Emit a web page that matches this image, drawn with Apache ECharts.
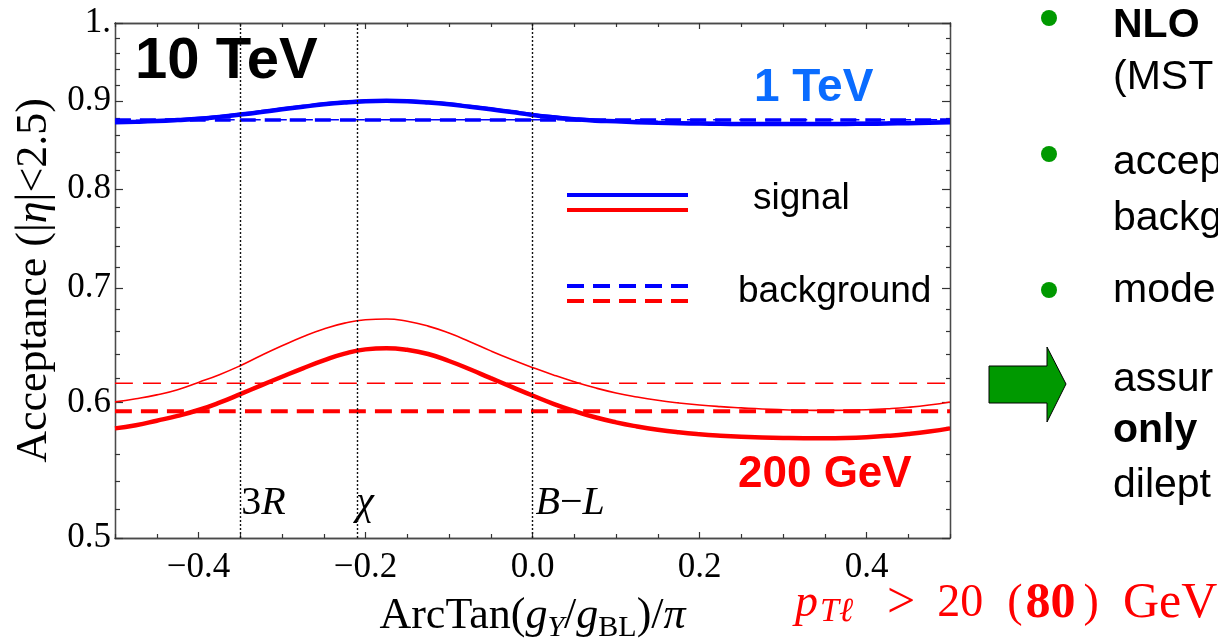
<!DOCTYPE html>
<html>
<head>
<meta charset="utf-8">
<script src="https://cdn.jsdelivr.net/npm/echarts@6/dist/echarts.min.js"></script>
<style>
  html, body { margin: 0; padding: 0; background: #ffffff; }
  #chart { width: 1218px; height: 640px; }
</style>
</head>
<body>
<div id="chart"></div>
<script>
// Mixing angle ArcTan(gY/gBL)/pi sampled across one period
const xGrid = [-0.5, -0.475, -0.45, -0.425, -0.4, -0.375, -0.35, -0.325, -0.3, -0.275,
               -0.25, -0.225, -0.2, -0.175, -0.15, -0.125, -0.1, -0.075, -0.05, -0.025,
               0, 0.025, 0.05, 0.075, 0.1, 0.125, 0.15, 0.175, 0.2, 0.225,
               0.25, 0.275, 0.3, 0.325, 0.35, 0.375, 0.4, 0.425, 0.45, 0.475, 0.5];

// 1 TeV Z' signal acceptance: pT > 80 GeV (thick) and pT > 20 GeV (thin)
const signal1TeVThick = [0.8750, 0.8755, 0.8763, 0.8775, 0.8790, 0.8813, 0.8840, 0.8870, 0.8903, 0.8934,
                         0.8963, 0.8985, 0.9000, 0.9005, 0.9000, 0.8985, 0.8963, 0.8934, 0.8903, 0.8870,
                         0.8836, 0.8808, 0.8785, 0.8768, 0.8760, 0.8750, 0.8743, 0.8738, 0.8734, 0.8731,
                         0.8729, 0.8728, 0.8728, 0.8728, 0.8729, 0.8730, 0.8732, 0.8735, 0.8739, 0.8744, 0.8750];
const signal1TeVThin  = [0.8762, 0.8767, 0.8775, 0.8787, 0.8802, 0.8825, 0.8852, 0.8882, 0.8915, 0.8946,
                         0.8975, 0.8997, 0.9012, 0.9017, 0.9012, 0.8997, 0.8975, 0.8946, 0.8915, 0.8882,
                         0.8848, 0.8820, 0.8797, 0.8780, 0.8772, 0.8762, 0.8755, 0.8750, 0.8746, 0.8743,
                         0.8741, 0.8740, 0.8740, 0.8740, 0.8741, 0.8742, 0.8744, 0.8747, 0.8751, 0.8756, 0.8762];
// 200 GeV Z' signal acceptance
const signal200Thin  = [0.6005, 0.6030, 0.6062, 0.6105, 0.6165, 0.6229, 0.6305, 0.6392, 0.6476, 0.6556,
                        0.6625, 0.6677, 0.6707, 0.6714, 0.6693, 0.6650, 0.6588, 0.6512, 0.6432, 0.6358,
                        0.6290, 0.6227, 0.6170, 0.6120, 0.6078, 0.6045, 0.6018, 0.5997, 0.5980, 0.5967,
                        0.5957, 0.5948, 0.5942, 0.5938, 0.5937, 0.5938, 0.5942, 0.5950, 0.5962, 0.5980, 0.6005];
const signal200Thick = [0.5795, 0.5820, 0.5855, 0.5893, 0.5940, 0.5999, 0.6068, 0.6140, 0.6212, 0.6283,
                        0.6350, 0.6408, 0.6445, 0.6455, 0.6441, 0.6405, 0.6345, 0.6275, 0.6200, 0.6128,
                        0.6057, 0.5990, 0.5932, 0.5882, 0.5842, 0.5810, 0.5784, 0.5764, 0.5749, 0.5738,
                        0.5730, 0.5725, 0.5721, 0.5719, 0.5719, 0.5721, 0.5727, 0.5737, 0.5751, 0.5770, 0.5795];

// Drell-Yan background acceptance (flat in the mixing angle)
const background1TeVThick = 0.8775;
const background1TeVThin = 0.8780;
const background200Thin = 0.6157;
const background200Thick = 0.5930;

// Benchmark models
const modelPositions = [-0.3524, -0.2148, 0];
const modelLabels = ['3{i|R}', '{i|χ}', '{i|B}−{i|L}'];
const modelLabelLevel = 0.5241;

// Axis ticks
const xMajorTicks = [-0.4, -0.2, 0, 0.2, 0.4];
const xMinorTicks = [-0.5, -0.45, -0.35, -0.3, -0.25, -0.15, -0.1, -0.05, 0.05, 0.1, 0.15, 0.25, 0.3, 0.35, 0.45, 0.5];
const yMajorTicks = [0.5, 0.6, 0.7, 0.8, 0.9, 1.0];
const yMinorTicks = [0.52, 0.54, 0.56, 0.58, 0.62, 0.64, 0.66, 0.68, 0.72, 0.74, 0.76, 0.78,
                     0.82, 0.84, 0.86, 0.88, 0.92, 0.94, 0.96, 0.98];

const SERIF = '"Liberation Serif", "DejaVu Serif", serif';
const SANS = '"Liberation Sans", Arial, sans-serif';
const FRAME = '#4a4a4a';
const TICK = '#333333';
const BLUE = '#0000ff';
const RED = '#ff0000';

const pairs = (ys) => xGrid.map((x, i) => [x, ys[i]]);
const flat = (v) => [[-0.5, v], [0.5, v]];

function xAxisDef(position, ticks, len, withLabels) {
  const ax = {
    type: 'value', min: -0.5, max: 0.5, position: position,
    axisLine: { show: true, onZero: false, lineStyle: { color: FRAME, width: 1.3 } },
    axisTick: { show: true, inside: true, length: len, customValues: ticks, lineStyle: { color: TICK, width: 1.2 } },
    axisLabel: { show: false },
    splitLine: { show: false }
  };
  if (withLabels) {
    ax.axisLabel = {
      show: true, customValues: xMajorTicks, margin: 12,
      fontFamily: SERIF, fontSize: 35, color: '#000',
      formatter: (v) => (v < 0 ? '−' : '') + Math.abs(v).toFixed(1)
    };
    ax.name = 'ArcTan({i|g}{sub|Y}/{i|g}{subr|BL})/{i|π}';
    ax.nameLocation = 'middle';
    ax.nameGap = 52;
    ax.nameTextStyle = {
      fontFamily: SERIF, fontSize: 44, color: '#000', lineHeight: 53,
      rich: {
        i: { fontFamily: SERIF, fontSize: 44, fontStyle: 'italic', color: '#000', lineHeight: 53 },
        sub: { fontFamily: SERIF, fontSize: 30, fontStyle: 'italic', color: '#000', verticalAlign: 'bottom' },
        subr: { fontFamily: SERIF, fontSize: 30, color: '#000', verticalAlign: 'bottom' }
      }
    };
  }
  return ax;
}

function yAxisDef(position, ticks, len, withLabels) {
  const ax = {
    type: 'log', logBase: 10, min: 0.5, max: 1, position: position,
    axisLine: { show: true, onZero: false, lineStyle: { color: FRAME, width: 1.3 } },
    axisTick: { show: true, inside: true, length: len, customValues: ticks, lineStyle: { color: TICK, width: 1.2 } },
    axisLabel: { show: false },
    splitLine: { show: false },
    minorTick: { show: false }
  };
  if (withLabels) {
    ax.axisLabel = {
      show: true, customValues: yMajorTicks, margin: 4,
      fontFamily: SERIF, fontSize: 35, color: '#000',
      formatter: (v) => (Math.abs(v - 1) < 1e-9 ? '1.' : v.toFixed(1))
    };
    ax.name = 'Acceptance (|{i|η}|<2.5)';
    ax.nameLocation = 'middle';
    ax.nameGap = 59;
    ax.nameTextStyle = {
      fontFamily: SERIF, fontSize: 44, color: '#000',
      rich: { i: { fontFamily: SERIF, fontSize: 44, fontStyle: 'italic', color: '#000' } }
    };
  }
  return ax;
}

function lineSeries(name, data, color, width, dash) {
  return {
    name: name, type: 'line', data: data, xAxisIndex: 0, yAxisIndex: 0,
    showSymbol: false, symbol: 'none', smooth: 0.5, silent: true,
    lineStyle: { color: color, width: width, type: dash || 'solid', cap: 'butt' },
    z: 3
  };
}

const chart = echarts.init(document.getElementById('chart'), null, { renderer: 'canvas' });

const legendX1 = 567, legendX2 = 688;

const option = {
  animation: false,
  backgroundColor: '#ffffff',
  grid: { left: 115, right: 268, top: 23, bottom: 102, containLabel: false, outerBoundsMode: 'none' },
  xAxis: [
    xAxisDef('bottom', xMajorTicks, 6, true),
    xAxisDef('bottom', xMinorTicks, 4, false),
    xAxisDef('top', xMajorTicks, 6, false),
    xAxisDef('top', xMinorTicks, 4, false)
  ],
  yAxis: [
    yAxisDef('left', yMajorTicks, 8, true),
    yAxisDef('left', yMinorTicks, 5, false),
    yAxisDef('right', yMajorTicks, 8, false),
    yAxisDef('right', yMinorTicks, 4, false)
  ],
  series: [
    lineSeries('background 1 TeV (20)', flat(background1TeVThin), BLUE, 1.5, [16, 10]),
    lineSeries('background 1 TeV (80)', flat(background1TeVThick), BLUE, 3.5, [16, 9]),
    lineSeries('background 200 GeV (20)', flat(background200Thin), RED, 1.5, [18, 10]),
    lineSeries('background 200 GeV (80)', flat(background200Thick), RED, 4, [17, 9]),
    lineSeries('signal 1 TeV (20)', pairs(signal1TeVThin), BLUE, 2, null),
    lineSeries('signal 1 TeV (80)', pairs(signal1TeVThick), BLUE, 4.5, null),
    lineSeries('signal 200 GeV (20)', pairs(signal200Thin), RED, 1.6, null),
    lineSeries('signal 200 GeV (80)', pairs(signal200Thick), RED, 4.5, null),
    {
      name: 'models', type: 'scatter', xAxisIndex: 0, yAxisIndex: 0,
      data: modelPositions.map((x) => [x, modelLabelLevel]),
      symbolSize: 0, silent: true,
      itemStyle: { opacity: 1 },
      label: {
        show: true, position: 'right', distance: 3, opacity: 1,
        formatter: (p) => modelLabels[p.dataIndex],
        fontFamily: SERIF, fontSize: 40, color: '#000', textBorderWidth: 0,
        rich: { i: { fontFamily: SERIF, fontSize: 40, fontStyle: 'italic', color: '#000' } }
      },
      markLine: {
        silent: true, symbol: ['none', 'none'], animation: false,
        label: { show: false },
        lineStyle: { color: '#111111', width: 1.4, type: [2, 2] },
        data: modelPositions.map((x) => ({ xAxis: x }))
      },
      z: 2
    }
  ],
  graphic: [
    // energy labels
    { type: 'text', left: 135, top: 33, silent: true,
      style: { text: '10 TeV', font: 'bold 58px ' + SANS, fill: '#000' } },
    { type: 'text', left: 754, top: 65, silent: true,
      style: { text: '1 TeV', font: 'bold 46px ' + SANS, fill: '#0a6cff' } },
    { type: 'text', left: 738, top: 453, silent: true,
      style: { text: '200 GeV', font: 'bold 44px ' + SANS, fill: RED } },
    // line-style key
    { type: 'line', silent: true, shape: { x1: legendX1, y1: 195, x2: legendX2, y2: 195 },
      style: { stroke: BLUE, lineWidth: 4 } },
    { type: 'line', silent: true, shape: { x1: legendX1, y1: 210, x2: legendX2, y2: 210 },
      style: { stroke: RED, lineWidth: 4 } },
    { type: 'line', silent: true, shape: { x1: legendX1, y1: 286, x2: legendX2, y2: 286 },
      style: { stroke: BLUE, lineWidth: 4, lineDash: [17, 9] } },
    { type: 'line', silent: true, shape: { x1: legendX1, y1: 301, x2: legendX2, y2: 301 },
      style: { stroke: RED, lineWidth: 4, lineDash: [17, 9] } },
    { type: 'text', left: 753, top: 180, silent: true,
      style: { text: 'signal', font: '37px ' + SANS, fill: '#000' } },
    { type: 'text', left: 738, top: 273, silent: true,
      style: { text: 'background', font: '37px ' + SANS, fill: '#000' } },
    // cut annotation
    { type: 'text', left: 795, top: 579, silent: true,
      style: {
        text: '{p|p}{s|Tℓ}{o|>}{n|20}{lp|(}{b|80}{rp|)}{g|GeV}',
        fill: RED,
        rich: {
          p: { fontFamily: SERIF, fontSize: 46, fontStyle: 'italic', fill: RED },
          s: { fontFamily: SERIF, fontSize: 34, fontStyle: 'italic', fill: RED, padding: [16, 14, 0, 2] },
          o: { fontFamily: SERIF, fontSize: 50, fill: RED, padding: [0, 0, 0, 20] },
          n: { fontFamily: SERIF, fontSize: 46, fill: RED, padding: [0, 0, 0, 22] },
          lp: { fontFamily: SERIF, fontSize: 46, fill: RED, padding: [0, 0, 0, 24] },
          b: { fontFamily: SERIF, fontSize: 50, fontWeight: 'bold', fill: RED, padding: [0, 0, 0, 3] },
          rp: { fontFamily: SERIF, fontSize: 46, fill: RED, padding: [0, 0, 0, 8] },
          g: { fontFamily: SERIF, fontSize: 50, fill: RED, padding: [0, 0, 0, 24] }
        }
      } },
    // bullet list beside the plot
    { type: 'circle', silent: true, shape: { cx: 1049, cy: 18, r: 8 }, style: { fill: '#009900' } },
    { type: 'circle', silent: true, shape: { cx: 1049, cy: 154, r: 8 }, style: { fill: '#009900' } },
    { type: 'circle', silent: true, shape: { cx: 1049, cy: 290, r: 8 }, style: { fill: '#009900' } },
    { type: 'text', left: 1113, top: 5, silent: true, style: { text: 'NLO', font: 'bold 41px ' + SANS, fill: '#000' } },
    { type: 'text', left: 1113, top: 57, silent: true, style: { text: '(MST', font: '41px ' + SANS, fill: '#000' } },
    { type: 'text', left: 1113, top: 142, silent: true, style: { text: 'accep', font: '41px ' + SANS, fill: '#000' } },
    { type: 'text', left: 1113, top: 198, silent: true, style: { text: 'backg', font: '41px ' + SANS, fill: '#000' } },
    { type: 'text', left: 1113, top: 270, silent: true, style: { text: 'mode', font: '41px ' + SANS, fill: '#000' } },
    { type: 'polygon', silent: true,
      shape: { points: [[989, 366], [1047, 366], [1047, 347], [1066, 384], [1047, 422], [1047, 403], [989, 403]] },
      style: { fill: '#009900', stroke: '#000', lineWidth: 1 } },
    { type: 'text', left: 1113, top: 359, silent: true, style: { text: 'assur', font: '41px ' + SANS, fill: '#000' } },
    { type: 'text', left: 1113, top: 410, silent: true, style: { text: 'only', font: 'bold 41px ' + SANS, fill: '#000' } },
    { type: 'text', left: 1113, top: 465, silent: true, style: { text: 'dilept', font: '41px ' + SANS, fill: '#000' } }
  ]
};

chart.setOption(option);
</script>
</body>
</html>
